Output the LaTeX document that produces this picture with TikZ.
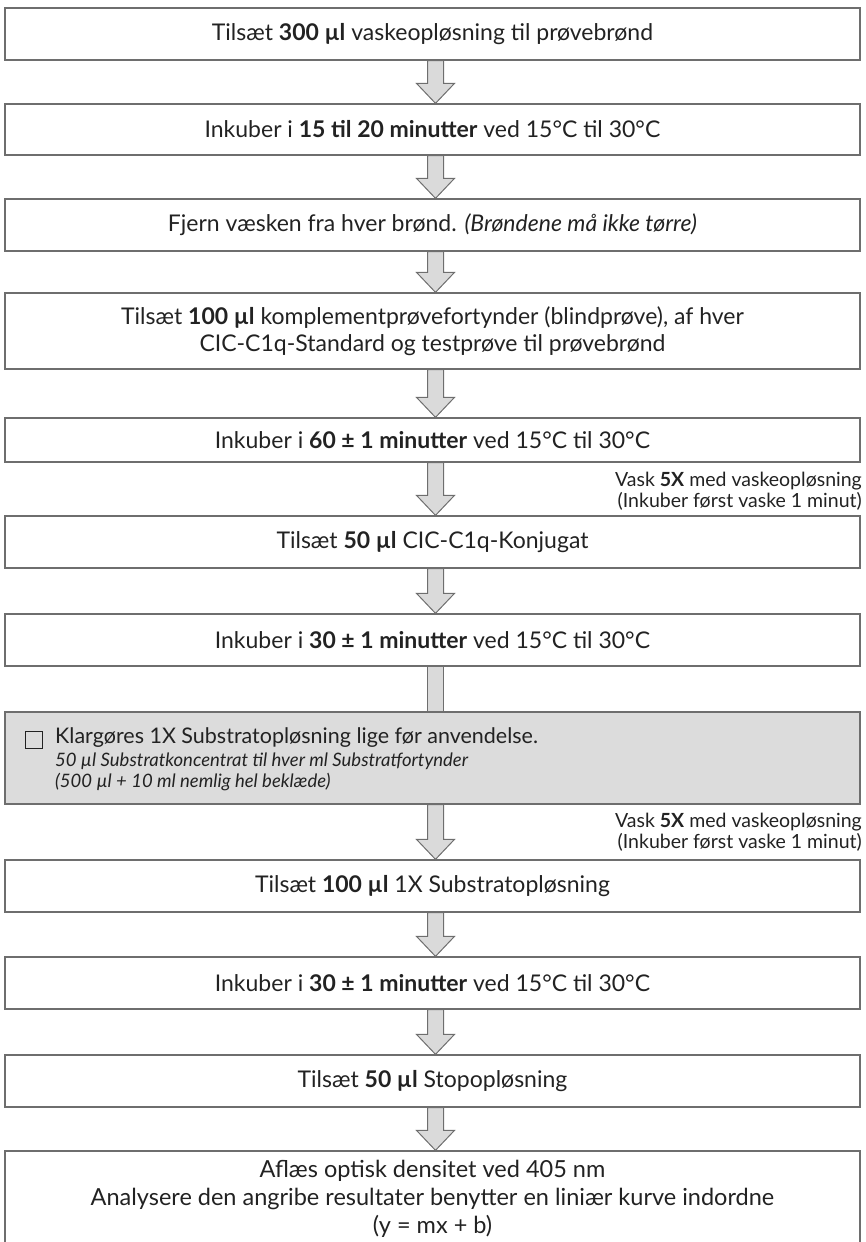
\documentclass[tikz,border=0pt]{standalone}
\usepackage{fontspec}
\setmainfont{Lato}
\usetikzlibrary{calc,backgrounds}
\definecolor{edge}{HTML}{6E6E6E}
\definecolor{txt}{HTML}{222222}
\definecolor{arrfill}{HTML}{DADADA}
\definecolor{grayfill}{HTML}{DCDCDC}
\tikzset{
  box/.style={draw=edge, line width=1.3pt, minimum width=855pt, inner sep=0pt, align=center, text=txt, font=\fontsize{23}{27}\selectfont},
  graybox/.style={box, fill=grayfill},
  side/.style={anchor=east, align=right, inner sep=0pt, text=txt, font=\fontsize{19.5}{21.5}\selectfont},
  arr/.style={draw=edge, line width=1pt, fill=arrfill, line join=miter},
}
\newcommand\blockarrow[2]{%
  \path[arr] let \p1=(#1.south), \p2=(#2.north) in
    (\x1-5pt,\y1) -- (\x1-5pt,\y2+20pt) -- (\x1-16pt,\y2+20pt) -- (\x1+3pt,\y2)
    -- (\x1+22pt,\y2+20pt) -- (\x1+11pt,\y2+20pt) -- (\x1+11pt,\y1) -- cycle;}
\newcommand\blockshaft[2]{%
  \path[arr] let \p1=(#1.south), \p2=(#2.north) in
    (\x1-5pt,\y1) rectangle (\x1+11pt,\y2);}
\begin{document}
\begin{tikzpicture}[x=1pt,y=-1pt]
\useasboundingbox (0,0) rectangle (865,1242);
\node[box, minimum height=52pt] (b1) at (432.5,34) {Tilsæt \textbf{300 µl} vaskeopløsning til prøvebrønd};
\node[box, minimum height=51pt] (b2) at (432.5,129.5) {Inkuber i \textbf{15 til 20 minutter} ved 15°C til 30°C};
\node[box, minimum height=52pt] (b3) at (432.5,225) {Fjern væsken fra hver brønd. \textit{(Brøndene må ikke tørre)}};
\node[box, minimum height=76pt] (b4) at (432.5,331) {Tilsæt \textbf{100 µl} komplementprøvefortynder (blindprøve), af hver\\CIC-C1q-Standard og testprøve til prøvebrønd};
\node[box, minimum height=44pt] (b5) at (432.5,440) {Inkuber i \textbf{60 ± 1 minutter} ved 15°C til 30°C};
\node[side] (s1) at (862,491) {Vask \textbf{5X} med vaskeopløsning\\(Inkuber først vaske 1 minut)};
\node[box, minimum height=52pt] (b6) at (432.5,542) {Tilsæt \textbf{50 µl} CIC-C1q-Konjugat};
\node[box, minimum height=52pt] (b7) at (432.5,640) {Inkuber i \textbf{30 ± 1 minutter} ved 15°C til 30°C};
\node[graybox, minimum height=92pt] (g) at (432.5,758) {};
\node[draw=txt, line width=1.2pt, minimum size=17pt, inner sep=0pt] (chk) at (34,740) {};
\node[anchor=west, inner sep=0pt, text=txt, font=\fontsize{21.5}{25}\selectfont] (g1) at (55,738) {Klargøres 1X Substratopløsning lige før anvendelse.};
\node[anchor=west, inner sep=0pt, align=left, text=txt, font=\fontsize{18.5}{21}\selectfont\itshape] (g2) at (55,772) {50 µl Substratkoncentrat til hver ml Substratfortynder\\(500 µl + 10 ml nemlig hel beklæde)};
\node[side] (s2) at (862,832) {Vask \textbf{5X} med vaskeopløsning\\(Inkuber først vaske 1 minut)};
\node[box, minimum height=52pt] (b8) at (432.5,886) {Tilsæt \textbf{100 µl} 1X Substratopløsning};
\node[box, minimum height=52pt] (b9) at (432.5,983) {Inkuber i \textbf{30 ± 1 minutter} ved 15°C til 30°C};
\node[box, minimum height=52pt] (b10) at (432.5,1081) {Tilsæt \textbf{50 µl} Stopopløsning};
\node[box, minimum height=96pt, font=\fontsize{23.5}{28}\selectfont] (b11) at (432.5,1199) {Aflæs optisk densitet ved 405 nm\\Analysere den angribe resultater benytter en liniær kurve indordne\\(y = mx + b)};
\begin{pgfonlayer}{background}
\blockarrow{b1}{b2}
\blockarrow{b2}{b3}
\blockarrow{b3}{b4}
\blockarrow{b4}{b5}
\blockarrow{b5}{b6}
\blockarrow{b6}{b7}
\blockshaft{b7}{g}
\blockarrow{g}{b8}
\blockarrow{b8}{b9}
\blockarrow{b9}{b10}
\blockarrow{b10}{b11}
\end{pgfonlayer}
\end{tikzpicture}
\end{document}
